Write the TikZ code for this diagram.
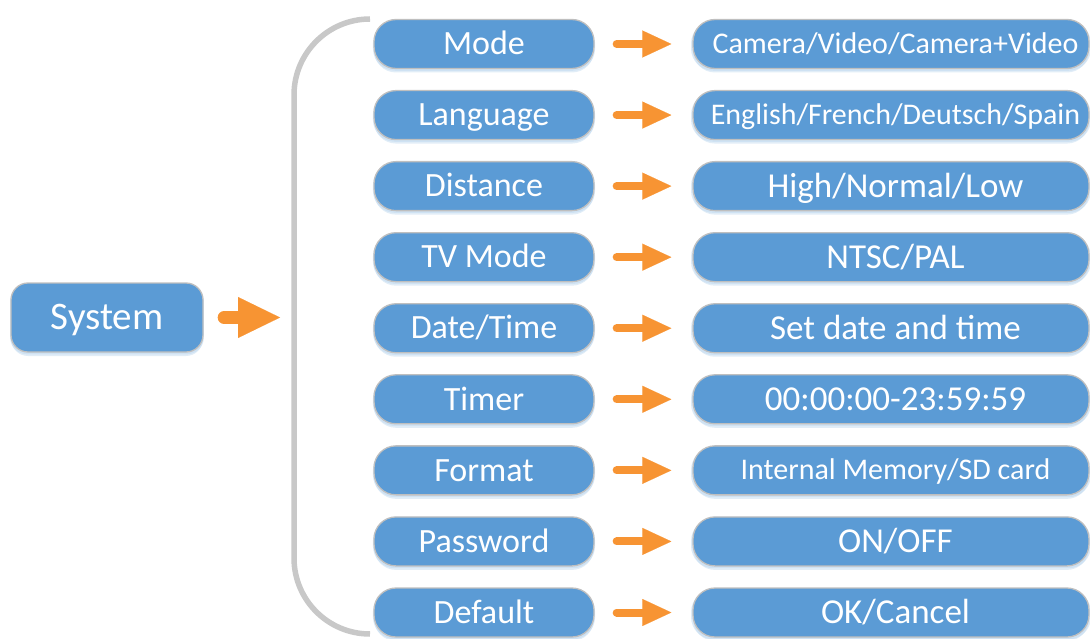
\documentclass[tikz,border=0pt]{standalone}
\usepackage{fontspec}
\setmainfont{Carlito}
\usetikzlibrary{arrows.meta,shadows}
\definecolor{boxblue}{HTML}{5B9BD5}
\definecolor{boxedge}{HTML}{BFBFBF}
\definecolor{arrorange}{HTML}{F79433}
\definecolor{brgray}{HTML}{C8C8C8}
\definecolor{glow}{HTML}{BDD7EE}
\begin{document}
\begin{tikzpicture}[x=1pt,y=-1pt,
 box/.style={draw=boxedge, line width=1.3pt, fill=boxblue, text=white, rounded corners=22pt, minimum height=49pt, inner sep=0pt,
   general shadow={shadow xshift=0pt, shadow yshift=-4pt, fill=glow, opacity=0.45},
   general shadow={shadow xshift=0pt, shadow yshift=-2pt, shadow scale=1.01, fill=glow, opacity=0.5}},
 lbox/.style={box, minimum width=220pt, font=\fontsize{34}{40}\selectfont, text height=21.5pt, text depth=0pt},
 rbox/.style={box, minimum width=396pt, font=\fontsize{35}{40}\selectfont, text height=22pt, text depth=0pt,
   execute at begin node=\hspace*{9pt}},
 rsmall/.style={font=\fontsize{30}{36}\selectfont, text height=19pt},
 sbox/.style={box, minimum width=192pt, minimum height=69pt, rounded corners=17pt, font=\fontsize{39}{44}\selectfont, text height=24.6pt, text depth=0pt},
 arr/.style={draw=arrorange, line width=8pt, line cap=round, -{Triangle[length=29pt,width=27pt,line width=0.1pt]}}
]
\useasboundingbox (0,0) rectangle (1090,639);
% bracket
\draw[brgray, line width=5.5pt, rounded corners=76pt] (370,19) -- (294,19) -- (294,634) -- (370,634);
\coordinate (brk) at (294,317.5);
% system
\node[sbox] (sys) at (107,317.5) {System};
\draw[arr, line width=13pt, -{Triangle[length=42pt,width=41pt,line width=0.1pt]}] ([xshift=20.5pt]sys.east) -- ([xshift=-14pt]brk);
% rows
\node[lbox] (l1) at (484,44) {Mode};
\node[rbox,rsmall] (r1) at (891,44) {Camera/Video/Camera+Video};
\node[lbox] (l2) at (484,115.06) {Language};
\node[rbox,rsmall] (r2) at (891,115.06) {English/French/Deutsch/Spain};
\node[lbox] (l3) at (484,186.12) {Distance};
\node[rbox] (r3) at (891,186.12) {High/Normal/Low};
\node[lbox] (l4) at (484,257.18) {TV Mode};
\node[rbox] (r4) at (891,257.18) {NTSC/PAL};
\node[lbox] (l5) at (484,328.24) {Date/Time};
\node[rbox] (r5) at (891,328.24) {Set date and time};
\node[lbox] (l6) at (484,399.3) {Timer};
\node[rbox] (r6) at (891,399.3) {00:00:00-23:59:59};
\node[lbox] (l7) at (484,470.36) {Format};
\node[rbox,rsmall] (r7) at (891,470.36) {Internal Memory/SD card};
\node[lbox] (l8) at (484,541.42) {Password};
\node[rbox] (r8) at (891,541.42) {ON/OFF};
\node[lbox] (l9) at (484,612.5) {Default};
\node[rbox] (r9) at (891,612.5) {OK/Cancel};
\foreach \i in {1,...,9}{
  \draw[arr] ([xshift=22pt]l\i.east) -- ([xshift=-21pt]r\i.west);
}
\end{tikzpicture}
\end{document}
